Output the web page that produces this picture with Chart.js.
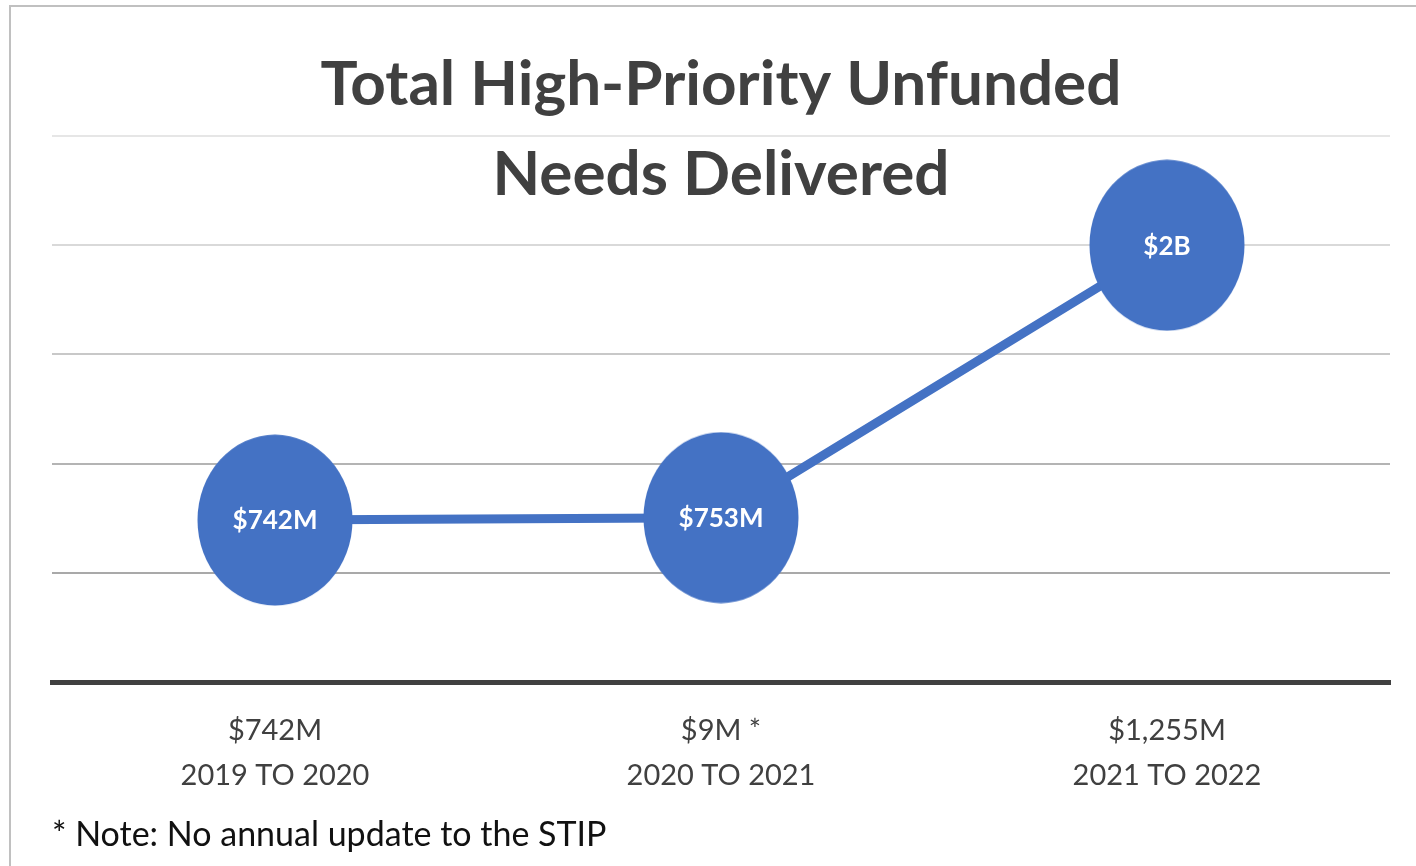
<!DOCTYPE html>
<html>
<head>
<meta charset="utf-8">
<script src="https://cdn.jsdelivr.net/npm/chart.js@4"></script>
<style>
  html, body { margin: 0; padding: 0; background: #ffffff; width: 1416px; height: 866px; overflow: hidden; }
  #frame { position: absolute; left: 9px; top: 5px; width: 1430px; height: 880px; border: 2px solid #c0c0c0; box-sizing: border-box; }
  #wrap { position: absolute; left: 0; top: 0; width: 1416px; height: 866px; }
</style>
</head>
<body>
<div id="frame"></div>
<div id="wrap"><canvas id="c" width="1416" height="866"></canvas></div>
<script>
// ---- data ----
const increments = ['$742M', '$9M *', '$1,255M'];
const periods = ['2019 TO 2020', '2020 TO 2021', '2021 TO 2022'];
const cumulative = [742, 753, 2000];
const pointLabels = ['$742M', '$753M', '$2B'];
const titleLines = ['Total High-Priority Unfunded', 'Needs Delivered'];
const noteText = '* Note: No annual update to the STIP';
const yTicks = [0, 500, 1000, 1500, 2000, 2500];

const BLUE = '#4472C4';
const categories = increments.map((inc, i) => [inc, periods[i]]);

// ellipse marker
function makeEllipse(w, h, color) {
  const cv = document.createElement('canvas');
  cv.width = w; cv.height = h;
  const g = cv.getContext('2d');
  g.fillStyle = color;
  g.beginPath();
  g.ellipse(w / 2, h / 2, w / 2 - 0.5, h / 2 - 0.5, 0, 0, Math.PI * 2);
  g.fill();
  return cv;
}
const marker = makeEllipse(156, 172, BLUE);

const gridColors = { 0: 'rgba(0,0,0,0)', 500: '#a9a9a9', 1000: '#b4b4b4', 1500: '#c8c8c8', 2000: '#d9d9d9', 2500: '#e6e6e6' };

const pointLabelPlugin = {
  id: 'pointLabelPlugin',
  afterDatasetsDraw(chart) {
    const meta = chart.getDatasetMeta(0);
    const ctx = chart.ctx;
    ctx.save();
    ctx.fillStyle = '#ffffff';
    ctx.font = 'bold 26px Lato';
    ctx.textAlign = 'center';
    ctx.textBaseline = 'middle';
    meta.data.forEach((pt, i) => {
      ctx.fillText(pointLabels[i], pt.x, pt.y + 1);
    });
    ctx.restore();
  }
};

new Chart(document.getElementById('c'), {
  type: 'line',
  data: {
    labels: categories,
    datasets: [{
      data: cumulative,
      borderColor: BLUE,
      borderWidth: 9,
      pointStyle: marker,
      pointRadius: 80,
      pointHoverRadius: 80,
      pointBackgroundColor: BLUE,
      pointBorderColor: BLUE,
      tension: 0,
      clip: false
    }]
  },
  options: {
    responsive: false,
    animation: false,
    events: [],
    layout: { autoPadding: false, padding: { left: 52, right: 26, top: 0, bottom: 0 } },
    plugins: {
      legend: { display: false },
      tooltip: { enabled: false },
      title: {
        display: true,
        text: titleLines,
        color: '#404040',
        font: { family: 'Lato', weight: 'bold', size: 62, lineHeight: '90px' },
        padding: { top: 40, bottom: -84 }
      },
      subtitle: {
        display: true,
        position: 'bottom',
        align: 'start',
        text: noteText,
        color: '#111111',
        font: { family: 'Lato', size: 34, lineHeight: 1.2 },
        padding: { top: -10, bottom: 11 }
      }
    },
    scales: {
      x: {
        offset: true,
        grid: { display: false, drawTicks: false },
        border: { display: true, color: '#404040', width: 5 },
        ticks: {
          color: '#404040',
          font: { family: 'Lato', size: 29, lineHeight: '45px' },
          padding: 26,
          maxRotation: 0
        }
      },
      y: {
        min: 0,
        max: 2500,
        afterBuildTicks(scale) { scale.ticks = yTicks.map(v => ({ value: v })); },
        ticks: { display: false },
        border: { display: false },
        grid: {
          drawTicks: false,
          lineWidth: 2,
          color: (ctx) => gridColors[ctx.tick && ctx.tick.value] || '#cccccc'
        }
      }
    }
  },
  plugins: [pointLabelPlugin]
});
</script>
</body>
</html>
